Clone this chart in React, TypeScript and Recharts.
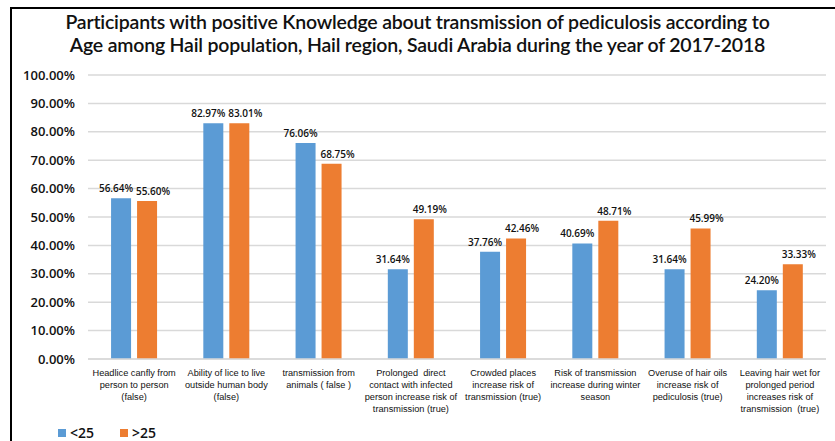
import { BarChart, Bar, XAxis, YAxis, CartesianGrid, LabelList } from "recharts";

const categories = [
  "Headlice canfly from|person to person|(false)",
  "Ability of lice to live|outside human body|(false)",
  "transmission from|animals ( false )",
  "Prolonged  direct|contact with infected|person increase risk of|transmission (true)",
  "Crowded places|increase risk of|transmission (true)",
  "Risk of transmission|increase during winter|season",
  "Overuse of hair oils|increase risk of|pediculosis (true)",
  "Leaving hair wet for|prolonged period|increases risk of|transmission  (true)",
];
const under25 = [56.64, 82.97, 76.06, 31.64, 37.76, 40.69, 31.64, 24.2];
const over25 = [55.6, 83.01, 68.75, 49.19, 42.46, 48.71, 45.99, 33.33];
const yTicks = [0, 10, 20, 30, 40, 50, 60, 70, 80, 90, 100];

const data = categories.map((name, i) => ({
  name,
  young: under25[i],
  old: over25[i],
}));

const BLUE = "#5B9BD5";
const ORANGE = "#ED7D31";

function CategoryTick(props: any) {
  const { x, y, payload } = props;
  const lines = String(payload.value).split("|");
  return (
    <g transform={`translate(${x},${y})`}>
      {lines.map((ln, i) => (
        <text
          key={i}
          x={0}
          y={9 + i * 12}
          textAnchor="middle"
          fontSize={9.2}
          fontFamily="Liberation Sans"
          fill="#111"
          style={{ whiteSpace: "pre" }}
        >
          {ln}
        </text>
      ))}
    </g>
  );
}

const labelFmt = (v: any) => `${Number(v).toFixed(2)}%`;

// value labels sit a little off-centre in the original so neighbours don't collide
function makeLabel(shift: number) {
  return (p: any) => {
    const { x, y, width, value } = p;
    return (
      <text
        x={x + width / 2 + shift}
        y={y - 6}
        textAnchor="middle"
        fontSize={10}
        fontFamily="Open Sans"
        fontWeight={600}
        fill="#111"
      >
        {labelFmt(value)}
      </text>
    );
  };
}

export default function App() {
  return (
    <div
      style={{
        position: "absolute",
        left: 0,
        top: 0,
        width: 835,
        height: 441,
        background: "#fff",
        overflow: "hidden",
      }}
    >
      <div
        style={{
          position: "absolute",
          left: 10,
          top: 7,
          right: 0,
          bottom: 0,
          borderTop: "2px solid #000",
          borderLeft: "2px solid #000",
        }}
      />
      <div
        style={{
          position: "absolute",
          left: 0,
          top: 10,
          width: 835,
          textAlign: "center",
          fontFamily: "Lato",
          fontWeight: 600,
          fontSize: 19.5,
          lineHeight: "23px",
          letterSpacing: -0.2,
          color: "#111",
        }}
      >
        Participants with positive Knowledge about transmission of pediculosis according to
        <br />
        Age among Hail population, Hail region, Saudi Arabia during the year of 2017-2018
      </div>
      <BarChart
        width={835}
        height={441}
        data={data}
        margin={{ top: 75, right: 9, bottom: 0, left: 10 }}
        barGap={6}
        barCategoryGap="25%"
      >
        <CartesianGrid vertical={false} stroke="#d9d9d9" strokeWidth={1.5} />
        <XAxis
          dataKey="name"
          interval={0}
          height={82}
          tickLine={false}
          axisLine={{ stroke: "#d9d9d9", strokeWidth: 1.5 }}
          tick={<CategoryTick />}
        />
        <YAxis
          width={78}
          domain={[0, 100]}
          ticks={yTicks}
          tickFormatter={labelFmt}
          axisLine={false}
          tickLine={false}
          tick={{ fontSize: 13, fill: "#111", fontFamily: "Open Sans", fontWeight: 600, dx: -5 }}
        />
        <Bar dataKey="young" fill={BLUE} isAnimationActive={false}>
          <LabelList dataKey="young" content={makeLabel(-5)} />
        </Bar>
        <Bar dataKey="old" fill={ORANGE} isAnimationActive={false}>
          <LabelList dataKey="old" content={makeLabel(6)} />
        </Bar>
      </BarChart>
      <div
        style={{
          position: "absolute",
          left: 58,
          top: 423,
          display: "flex",
          alignItems: "center",
          fontFamily: "Open Sans",
          fontWeight: 600,
          fontSize: 14,
          color: "#111",
        }}
      >
        <span style={{ width: 8, height: 8, background: BLUE, marginRight: 4 }} />
        <span style={{ width: 50 }}>&lt;25</span>
        <span style={{ width: 8, height: 8, background: ORANGE, marginRight: 4 }} />
        <span>&gt;25</span>
      </div>
    </div>
  );
}
